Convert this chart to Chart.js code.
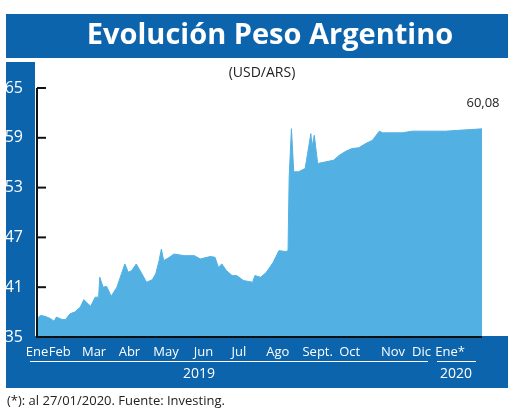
<!DOCTYPE html>
<html>
<head>
<meta charset="utf-8">
<script src="https://cdn.jsdelivr.net/npm/chart.js@4"></script>
<style>
html, body { margin: 0; padding: 0; background: #fff; }
canvas { display: block; }
</style>
</head>
<body>
<canvas id="myChart" width="520" height="413"></canvas>
<script>
// days since 1 Jan 2019 and USD/ARS close
const days = [0, 3, 7, 12, 15, 17, 22, 25, 29, 33, 38, 41, 47, 51, 54, 55, 58, 61, 65, 70, 74, 77, 80, 83, 87, 92, 96, 101, 104, 107, 109, 111, 116, 120, 129, 138, 143, 152, 156, 159, 162, 166, 171, 175, 181, 189, 191, 196, 201, 207, 212, 218, 220, 221, 223, 225, 229, 235, 240, 241, 243, 246, 253, 260, 265, 271, 276, 282, 288, 294, 300, 303, 311, 320, 329, 337, 346, 358, 369, 381, 390];
const values = [37.2, 37.6, 37.5, 37.2, 36.9, 37.4, 37.1, 37.1, 37.8, 38.0, 38.6, 39.5, 38.7, 39.8, 39.8, 42.2, 41.0, 41.1, 39.9, 41.0, 42.6, 43.8, 42.8, 43.0, 43.8, 42.6, 41.6, 41.9, 42.6, 44.2, 45.6, 44.2, 44.6, 45.0, 44.8, 44.8, 44.4, 44.7, 44.6, 43.4, 43.8, 43.0, 42.4, 42.4, 41.8, 41.6, 42.4, 42.2, 42.8, 44.0, 45.4, 45.3, 45.4, 54.3, 60.1, 54.9, 54.9, 55.3, 59.5, 57.9, 59.3, 55.9, 56.1, 56.3, 56.9, 57.4, 57.7, 57.8, 58.3, 58.7, 59.8, 59.6, 59.6, 59.6, 59.8, 59.8, 59.8, 59.8, 59.9, 60.0, 60.08];
const yTicks = [35, 41, 47, 53, 59, 65];
const monthLabels = ['Ene', 'Feb', 'Mar', 'Abr', 'May', 'Jun', 'Jul', 'Ago', 'Sept.', 'Oct', 'Nov', 'Dic', 'Ene*'];
const monthDays = [0, 20, 50, 81, 113, 146, 177, 211, 246, 274, 312, 337, 362];
const yearLabels = ['2019', '2020'];
const lastLabel = '60,08';

const BLUE = '#0b64ac';
const FONT = '"Open Sans", "Noto Sans", sans-serif';

const frame = {
	id: 'frame',
	beforeDraw(chart) {
		const c = chart.ctx;
		c.save();
		c.fillStyle = BLUE;
		c.fillRect(6, 14, 502, 44);
		c.fillRect(6, 62, 29, 326);
		c.fillRect(6, 336, 502, 52);
		c.fillStyle = '#fff';
		c.textAlign = 'center';
		c.textBaseline = 'middle';
		c.font = 'bold 29px ' + FONT;
		c.fillText('Evolución Peso Argentino', 270, 36);
		c.fillStyle = '#222';
		c.font = '14px ' + FONT;
		c.fillText('(USD/ARS)', 262, 73);
		c.textAlign = 'left';
		c.font = '13px ' + FONT;
		c.fillText('(*): al 27/01/2020. Fuente: Investing.', 7, 401);
		c.restore();
	},
	afterDraw(chart) {
		const c = chart.ctx;
		const x = chart.scales.x, y = chart.scales.y;
		const a = chart.chartArea;
		c.save();
		c.strokeStyle = '#111';
		c.lineWidth = 2;
		c.beginPath();
		c.moveTo(a.left, a.top);
		c.lineTo(a.left, a.bottom);
		c.lineTo(a.right, a.bottom);
		c.stroke();
		yTicks.forEach(v => {
			const py = y.getPixelForValue(v);
			c.beginPath();
			c.moveTo(a.left, py);
			c.lineTo(a.left + 9, py);
			c.stroke();
		});
		c.fillStyle = '#fff';
		c.textAlign = 'center';
		c.textBaseline = 'middle';
		c.font = '13px ' + FONT;
		monthLabels.forEach((m, i) => {
			c.fillText(m, x.getPixelForValue(monthDays[i]), 352);
		});
		c.strokeStyle = '#fff';
		c.lineWidth = 1;
		c.beginPath();
		c.moveTo(30, 361.5); c.lineTo(428, 361.5);
		c.moveTo(437, 361.5); c.lineTo(476, 361.5);
		c.stroke();
		c.font = '14px ' + FONT;
		c.fillText(yearLabels[0], 199, 374);
		c.fillText(yearLabels[1], 456, 374);
		c.fillStyle = '#222';
		c.font = '13px ' + FONT;
		c.fillText(lastLabel, 483, 103);
		c.restore();
	}
};

const ctx = document.getElementById('myChart').getContext('2d');
new Chart(ctx, {
	type: 'line',
	data: {
		datasets: [{
			data: days.map((d, i) => ({ x: d, y: values[i] })),
			fill: 'origin',
			backgroundColor: '#52b1e2',
			borderColor: '#52b1e2',
			borderWidth: 1,
			pointRadius: 0,
			tension: 0
		}]
	},
	options: {
		responsive: false,
		animation: false,
		layout: { padding: { top: 88, bottom: 76, right: 38, left: 0 } },
		plugins: { legend: { display: false }, tooltip: { enabled: false } },
		scales: {
			x: { type: 'linear', min: 0, max: 390, display: false },
			y: {
				min: 35, max: 65,
				afterFit(s) { s.width = 37; },
				afterBuildTicks(s) { s.ticks = yTicks.map(v => ({ value: v })); },
				grid: { display: false },
				border: { display: false },
				ticks: { color: '#fff', padding: 6, font: { size: 16, family: FONT } }
			}
		}
	},
	plugins: [frame]
});
</script>
</body>
</html>
